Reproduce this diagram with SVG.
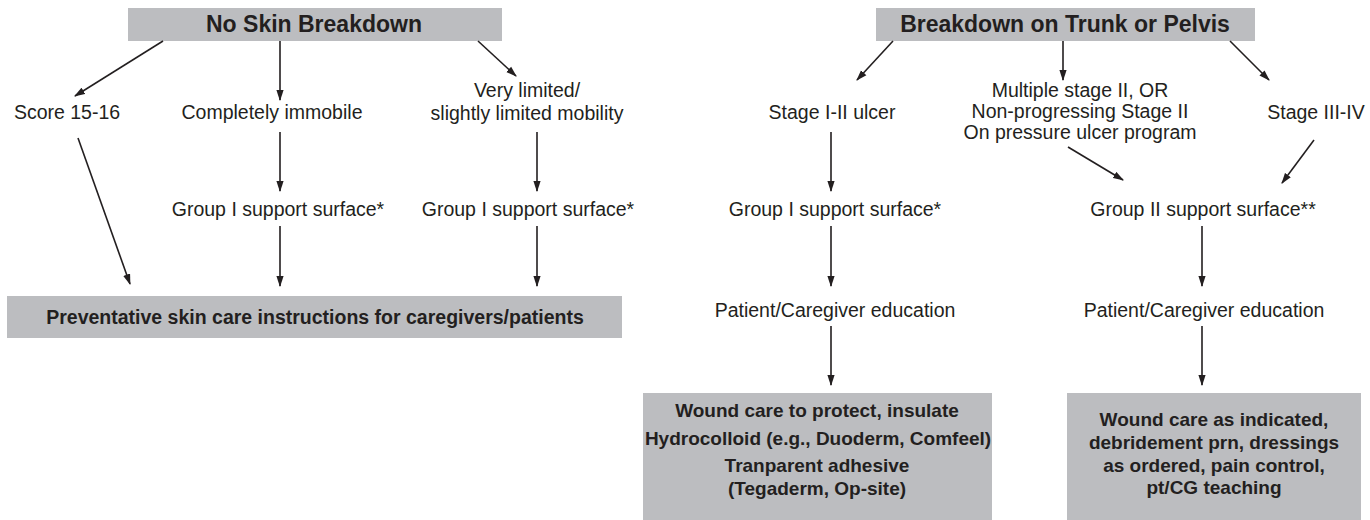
<svg xmlns="http://www.w3.org/2000/svg" width="1370" height="520" viewBox="0 0 1370 520">
<style>
.box{fill:#bcbdc0;}
.t{font-family:"Liberation Sans",Arial,sans-serif;font-size:19.5px;fill:#231f20;text-anchor:middle;}
.b{font-family:"Liberation Sans",Arial,sans-serif;font-weight:bold;fill:#231f20;text-anchor:middle;font-size:19px;}
.h{font-size:23px;}
.p{font-size:19.5px;}
.c line{stroke:#231f20;stroke-width:1.6;marker-end:url(#ah);}
</style>
<defs>
<marker id="ah" viewBox="0 0 10 10" refX="9" refY="5" markerWidth="11" markerHeight="8" markerUnits="userSpaceOnUse" orient="auto" preserveAspectRatio="none">
<path d="M0,0.5 L10,5 L0,9.5 Z" fill="#231f20"/>
</marker>
</defs>
<rect width="1370" height="520" fill="#fff"/>
<g id="n-noskin"><rect class="box" x="128" y="8" width="374" height="33"/><text class="b h" x="314" y="32">No Skin Breakdown</text></g>
<g id="n-trunk"><rect class="box" x="876" y="8" width="379" height="33"/><text class="b h" x="1065" y="32">Breakdown on Trunk or Pelvis</text></g>
<g id="n-score"><text class="t" x="67" y="119">Score 15-16</text></g>
<g id="n-immobile"><text class="t" x="272" y="119">Completely immobile</text></g>
<g id="n-limited"><text class="t" x="527" y="97">Very limited/</text><text class="t" x="527" y="120">slightly limited mobility</text></g>
<g id="n-g1a"><text class="t" x="278" y="216">Group I support surface*</text></g>
<g id="n-g1b"><text class="t" x="528" y="216">Group I support surface*</text></g>
<g id="n-prev"><rect class="box" x="7" y="296" width="615" height="42"/><text class="b p" x="315" y="324">Preventative skin care instructions for caregivers/patients</text></g>
<g id="n-stage12"><text class="t" x="832" y="119">Stage I-II ulcer</text></g>
<g id="n-multi"><text class="t" x="1080" y="97">Multiple stage II, OR</text><text class="t" x="1080" y="118">Non-progressing Stage II</text><text class="t" x="1080" y="139">On pressure ulcer program</text></g>
<g id="n-stage34"><text class="t" x="1316" y="119">Stage III-IV</text></g>
<g id="n-g1c"><text class="t" x="835" y="216">Group I support surface*</text></g>
<g id="n-g2"><text class="t" x="1203" y="216">Group II support surface**</text></g>
<g id="n-edu1"><text class="t" x="835" y="317">Patient/Caregiver education</text></g>
<g id="n-edu2"><text class="t" x="1204" y="317">Patient/Caregiver education</text></g>
<g id="n-wound1"><rect class="box" x="643" y="393" width="349" height="127"/>
<text class="b" x="817" y="417">Wound care to protect, insulate</text>
<text class="b" x="818" y="445">Hydrocolloid (e.g., Duoderm, Comfeel)</text>
<text class="b" x="817" y="472">Tranparent adhesive</text>
<text class="b" x="817" y="495"> (Tegaderm, Op-site)</text></g>
<g id="n-wound2"><rect class="box" x="1067" y="393" width="294" height="127"/>
<text class="b" x="1214" y="426">Wound care as indicated,</text>
<text class="b" x="1214" y="449">debridement prn, dressings</text>
<text class="b" x="1214" y="472">as ordered, pain control,</text>
<text class="b" x="1214" y="494">pt/CG teaching</text></g>
<g id="connectors" class="c">
<line x1="163" y1="41" x2="75" y2="96"/>
<line x1="280" y1="41" x2="280" y2="100"/>
<line x1="478" y1="41" x2="516" y2="76"/>
<line x1="78" y1="138" x2="130" y2="284"/>
<line x1="280" y1="132" x2="280" y2="191"/>
<line x1="537" y1="132" x2="537" y2="191"/>
<line x1="280" y1="226" x2="280" y2="286"/>
<line x1="537" y1="226" x2="537" y2="286"/>
<line x1="893" y1="41" x2="857" y2="80"/>
<line x1="1063" y1="41" x2="1063" y2="80"/>
<line x1="1230" y1="41" x2="1269" y2="80"/>
<line x1="831" y1="132" x2="831" y2="191"/>
<line x1="1068" y1="147" x2="1123" y2="180"/>
<line x1="1314" y1="140" x2="1282" y2="183"/>
<line x1="831" y1="226" x2="831" y2="286"/>
<line x1="1202" y1="226" x2="1202" y2="286"/>
<line x1="831" y1="326" x2="831" y2="385"/>
<line x1="1202" y1="326" x2="1202" y2="385"/>
</g>
</svg>
